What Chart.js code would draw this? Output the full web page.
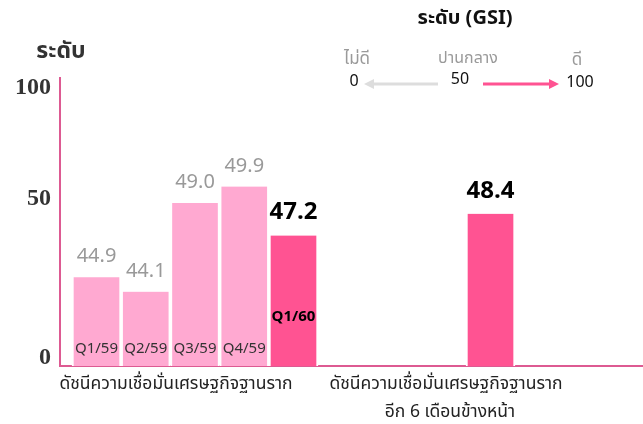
<!DOCTYPE html>
<html>
<head>
<meta charset="utf-8">
<script src="https://cdn.jsdelivr.net/npm/chart.js@4.4.1/dist/chart.umd.min.js"></script>
<style>
  html, body { margin: 0; padding: 0; background: #fff; }
</style>
</head>
<body>
<canvas id="gsiChart" width="643" height="424"></canvas>
<script>
// data
var quarters = ["Q1/59", "Q2/59", "Q3/59", "Q4/59", "Q1/60", ""];
var slots = [1, 2, 3, 4, 5, 9];
var gsiValues = [44.9, 44.1, 49.0, 49.9, 47.2, 48.4];
var yTickValues = [40.44, 49.25, 55.33];
var yTickLabels = ["0", "50", "100"];
var groupLabels = [
  ["ดัชนีความเชื่อมั่นเศรษฐกิจฐานราก"],
  ["ดัชนีความเชื่อมั่นเศรษฐกิจฐานราก", "อีก 6 เดือนข้างหน้า"]
];

var thaiFont = "Tahoma, 'Noto Sans Thai', 'Leelawadee UI', 'DejaVu Sans', sans-serif";
var lightPink = "#ffa9d1";
var darkPink = "#ff5392";
var axisPink = "#dd5a92";

var barColors = gsiValues.map(function (v, i) { return i < 4 ? lightPink : darkPink; });

var labelsPlugin = {
  id: "gsiLabels",
  afterDatasetsDraw: function (chart) {
    var ctx = chart.ctx;
    var meta = chart.getDatasetMeta(0);
    var area = chart.chartArea;
    ctx.save();
    ctx.textAlign = "center";
    ctx.textBaseline = "middle";
    meta.data.forEach(function (el, i) {
      var txt = gsiValues[i].toFixed(1);
      if (i < 4) {
        ctx.font = "20px " + thaiFont;
        ctx.fillStyle = "#999999";
        ctx.fillText(txt, el.x, el.y - 19);
        ctx.font = "15px " + thaiFont;
        ctx.fillStyle = "#333333";
        ctx.fillText(quarters[i], el.x, area.bottom - 16);
      } else {
        ctx.font = "bold 24px " + thaiFont;
        ctx.fillStyle = "#000000";
        ctx.fillText(txt, el.x, el.y - 21);
        if (quarters[i]) {
          ctx.font = "bold 15px " + thaiFont;
          ctx.fillText(quarters[i], el.x, area.bottom - 48);
        }
      }
    });

    // axis title
    ctx.font = "bold 23px " + thaiFont;
    ctx.fillStyle = "#333333";
    ctx.fillText("ระดับ", area.left + 1, 53);

    // group captions under the axis
    ctx.font = "17.5px " + thaiFont;
    ctx.fillStyle = "#222222";
    ctx.fillText(groupLabels[0][0], 176, 385);
    ctx.fillText(groupLabels[1][0], 446, 385);
    ctx.fillText(groupLabels[1][1], 450, 413);

    // GSI scale legend
    ctx.font = "bold 20px " + thaiFont;
    ctx.fillStyle = "#111111";
    ctx.fillText("ระดับ (GSI)", 465, 20);
    ctx.font = "17px " + thaiFont;
    ctx.fillStyle = "#9a9a9a";
    ctx.fillText("ไม่ดี", 357, 61);
    ctx.font = "16px " + thaiFont;
    ctx.fillText("ปานกลาง", 468, 60);
    ctx.font = "17px " + thaiFont;
    ctx.fillText("ดี", 577, 62);
    ctx.font = "16px " + thaiFont;
    ctx.fillStyle = "#111111";
    ctx.fillText("0", 354, 83);
    ctx.fillText("50", 460, 81);
    ctx.fillText("100", 580, 84);

    ctx.lineWidth = 3;
    ctx.strokeStyle = "#dddddd";
    ctx.beginPath(); ctx.moveTo(438, 84); ctx.lineTo(372, 84); ctx.stroke();
    ctx.fillStyle = "#dddddd";
    ctx.beginPath(); ctx.moveTo(364, 84); ctx.lineTo(374, 79); ctx.lineTo(374, 89); ctx.closePath(); ctx.fill();

    ctx.strokeStyle = darkPink;
    ctx.beginPath(); ctx.moveTo(483, 84); ctx.lineTo(550, 84); ctx.stroke();
    ctx.fillStyle = darkPink;
    ctx.beginPath(); ctx.moveTo(559, 84); ctx.lineTo(549, 79); ctx.lineTo(549, 89); ctx.closePath(); ctx.fill();
    ctx.restore();
  }
};

var ctx = document.getElementById("gsiChart").getContext("2d");

new Chart(ctx, {
  type: "bar",
  data: {
    datasets: [{
      data: slots.map(function (s, i) { return { x: s, y: gsiValues[i] }; }),
      backgroundColor: barColors,
      borderColor: "#ffffff",
      borderWidth: { left: 2, right: 2, top: 0, bottom: 3 },
      borderSkipped: false,
      barThickness: 49
    }]
  },
  options: {
    responsive: false,
    animation: false,
    layout: { padding: { top: 78, left: 0, right: 0, bottom: 58 } },
    plugins: {
      legend: { display: false },
      tooltip: { enabled: false }
    },
    scales: {
      x: {
        type: "linear",
        min: 0.259,
        max: 12.096,
        z: 1,
        grid: { display: false, drawTicks: false },
        border: { display: true, color: axisPink, width: 2 },
        ticks: { display: false },
        afterBuildTicks: function (s) { s.ticks = []; },
        afterFit: function (s) { s.height = 0; }
      },
      y: {
        min: 40,
        max: 55.89,
        grid: { display: false, drawTicks: false },
        border: { display: true, color: axisPink, width: 2 },
        afterBuildTicks: function (s) {
          s.ticks = yTickValues.map(function (v) { return { value: v }; });
        },
        afterFit: function (s) { s.width = 60; },
        ticks: {
          padding: 9,
          color: "#333333",
          font: { family: "'Liberation Serif', serif", size: 24, weight: "bold" },
          callback: function (v, i) { return yTickLabels[i]; }
        }
      }
    }
  },
  plugins: [labelsPlugin]
});
</script>
</body>
</html>
